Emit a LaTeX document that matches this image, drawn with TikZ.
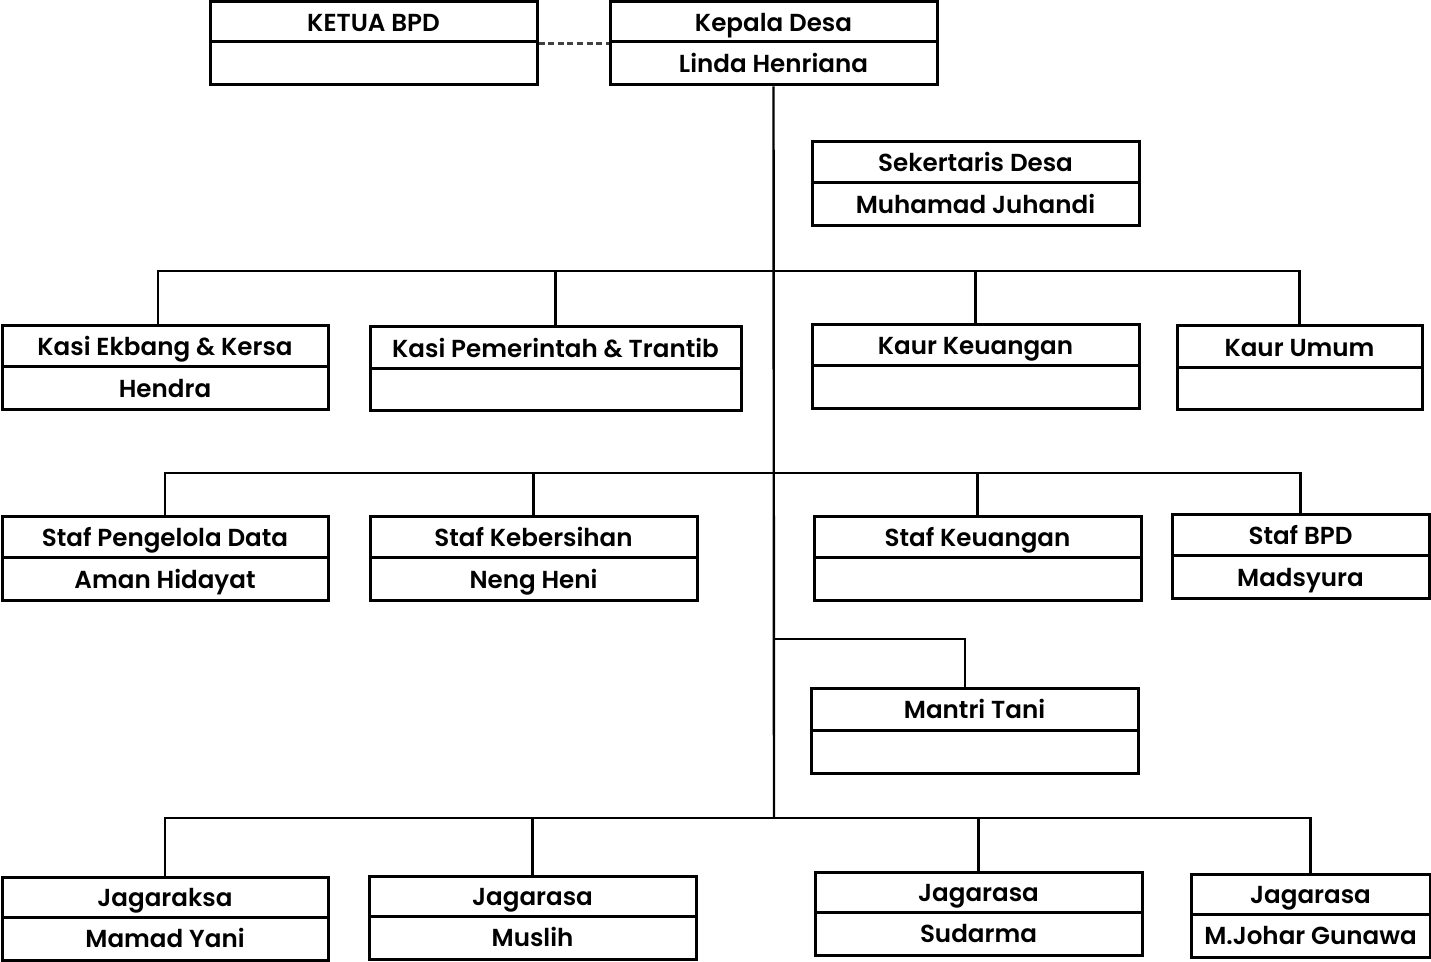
\documentclass[tikz,border=0pt]{standalone}
\usepackage{fontspec}
\setmainfont{Poppins}[UprightFont=* SemiBold]
\usetikzlibrary{fit}
\tikzset{
  orgframe/.style={draw=black, line width=1.5pt, inner sep=0pt, rectangle},
  divider/.style={draw=black, line width=1.5pt},
  orglabel/.style={inner sep=0pt, text height=0.7em, text depth=0pt, anchor=center, yshift=-1.2pt, font=\fontsize{12.3}{14}\selectfont},
  conn/.style={draw=black, line width=1.2pt},
  dashconn/.style={draw=black!75, line width=1.1pt, dash pattern=on 3pt off 1.8pt}
}
% #1 name, #2 x1, #3 y1, #4 x2, #5 y2, #6 ydiv, #7 title, #8 name text
\newcommand\orgbox[8]{%
  \node[orgframe, fit={(#2,#3) (#4,#5)}] (#1) {};
  \draw[divider] (#2,#6) -- (#4,#6);
  \node[orglabel] (#1-t) at ({(#2+#4)/2},{(#3+#6)/2}) {#7};
  \node[orglabel] (#1-n) at ({(#2+#4)/2},{(#6+#5)/2}) {#8};
}
\begin{document}
\begin{tikzpicture}[x=0.5pt,y=-0.5pt]
\useasboundingbox (0,0) rectangle (1431,962);
% top
\orgbox{kb}{210}{2}{537}{85}{42}{KETUA BPD}{}
\orgbox{kd}{610}{2}{937}{85}{42}{Kepala Desa}{Linda Henriana}
\orgbox{sd}{812}{142}{1139}{226}{183}{Sekertaris Desa}{Muhamad Juhandi}
% row 1
\orgbox{keb}{2}{326}{328}{410}{367}{Kasi Ekbang \& Kersa}{Hendra}
\orgbox{kpm}{370}{327}{741}{411}{369}{Kasi Pemerintah \& Trantib}{}
\orgbox{kk}{812}{325}{1139}{409}{366}{Kaur Keuangan}{}
\orgbox{kum}{1177}{326}{1422}{410}{368}{Kaur Umum}{}
% row 2
\orgbox{spd}{2}{517}{328}{601}{558}{Staf Pengelola Data}{Aman Hidayat}
\orgbox{skb}{370}{517}{697}{601}{558}{Staf Kebersihan}{Neng Heni}
\orgbox{sku}{814}{517}{1141}{601}{558}{Staf Keuangan}{}
\orgbox{sbpd}{1172}{515}{1429}{599}{556}{Staf BPD}{Madsyura}
% mantri
\orgbox{mt}{811}{689}{1138}{773}{730}{Mantri Tani}{}
% bottom
\orgbox{jgk}{2}{877}{328}{960}{917}{Jagaraksa}{Mamad Yani}
\orgbox{jm}{369}{876}{696}{959}{916}{Jagarasa}{Muslih}
\orgbox{js}{815}{872}{1142}{955}{912}{Jagarasa}{Sudarma}
\orgbox{jj}{1191}{874}{1430}{957}{914}{Jagarasa}{M.Johar Gunawa}

% connectors
\coordinate (bar1) at (774,271);
\coordinate (bar2) at (774,473);
\coordinate (mt0) at (774,639);
\coordinate (bar3) at (774,818);
\draw[dashconn] (kb.east) -- (kd.west);
\draw[conn] (kd.south) -- (bar3);
\draw[conn] ([xshift=-3.5pt]keb.north) |- (bar1) -| (kum.north);
\draw[conn] (kpm.north) -- (kpm.north |- bar1);
\draw[conn] (kk.north) -- (kk.north |- bar1);
\draw[conn] (spd.north) |- (bar2) -| (sbpd.north);
\draw[conn] (skb.north) -- (skb.north |- bar2);
\draw[conn] (sku.north) -- (sku.north |- bar2);
\draw[conn] (mt0) -| ([xshift=-4.75pt]mt.north);
\draw[conn] (jgk.north) |- (bar3) -| (jj.north);
\draw[conn] (jm.north) -- (jm.north |- bar3);
\draw[conn] (js.north) -- (js.north |- bar3);
\end{tikzpicture}
\end{document}
